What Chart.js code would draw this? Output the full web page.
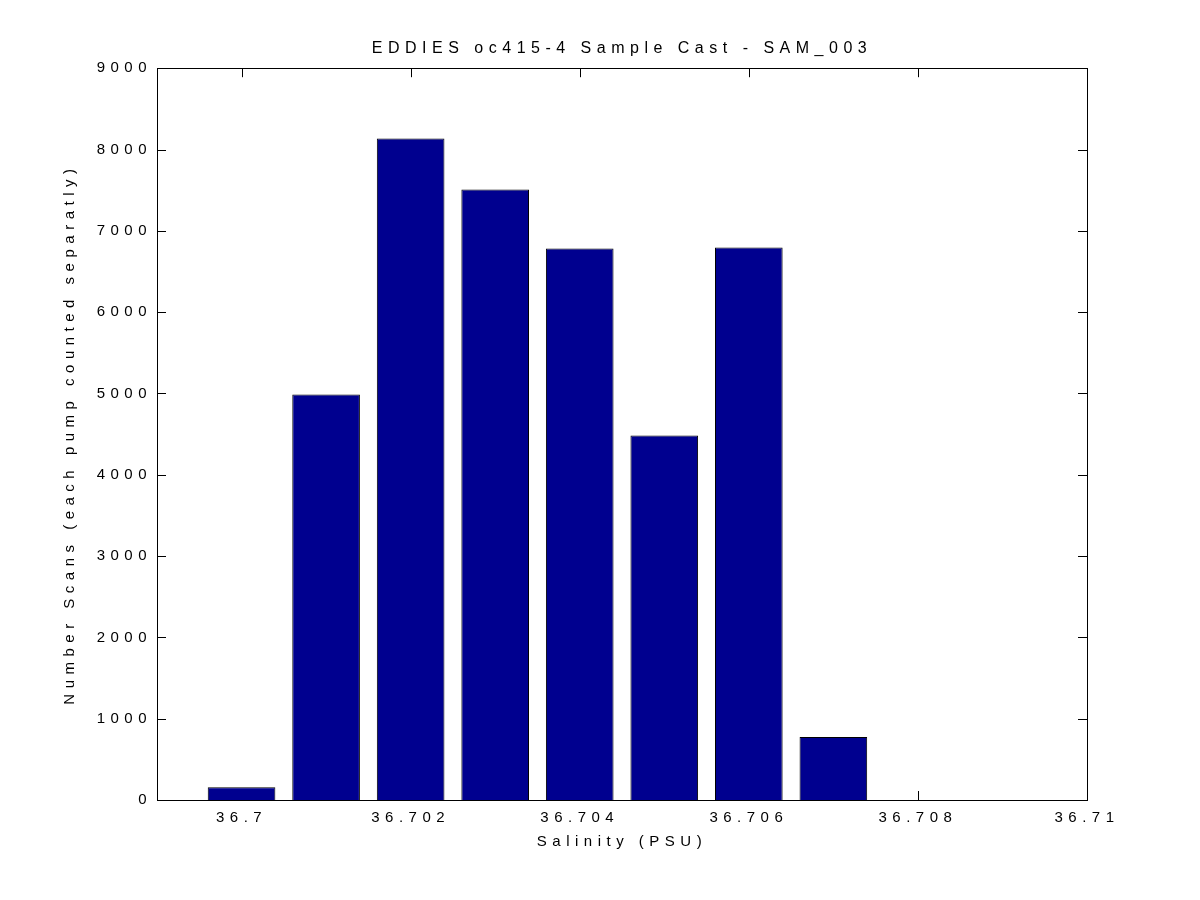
<!DOCTYPE html>
<html>
<head>
<meta charset="utf-8">
<script src="https://cdn.jsdelivr.net/npm/chart.js@4/dist/chart.umd.min.js"></script>
<style>
  body { margin: 0; background: #fff; }
</style>
</head>
<body>
<canvas id="myChart" width="1200" height="900"></canvas>
<script>
'use strict';

// DATA
// ====
var salinity = [36.700, 36.701, 36.702, 36.703, 36.704, 36.705, 36.706, 36.707];
var scans = [156, 4988, 8136, 7509, 6783, 4484, 6795, 775];
var xTicks = [36.7, 36.702, 36.704, 36.706, 36.708, 36.71];
var yTicks = [0, 1000, 2000, 3000, 4000, 5000, 6000, 7000, 8000, 9000];

var FONT = { family: '"Liberation Sans", Arial, sans-serif', size: 15 };
var TICK_LEN = 9;

// matlab style box with inward ticks on all four sides
var matlabAxes = {
    id: 'matlabAxes',
    beforeDraw: function (chart) {
        var ctx = chart.ctx;
        ctx.save();
        ctx.fillStyle = '#fff';
        ctx.fillRect(0, 0, chart.width, chart.height);
        ctx.restore();
        ctx.letterSpacing = '5.5px';
    },
    beforeDatasetsDraw: function (chart) {
        var ctx = chart.ctx, a = chart.chartArea;
        var xs = chart.scales.x, ys = chart.scales.y;
        ctx.save();
        ctx.strokeStyle = '#000';
        ctx.lineWidth = 1;
        ctx.beginPath();
        xTicks.forEach(function (v) {
            var px = Math.round(xs.getPixelForValue(v)) + 0.5;
            ctx.moveTo(px, a.bottom); ctx.lineTo(px, a.bottom - TICK_LEN);
            ctx.moveTo(px, a.top); ctx.lineTo(px, a.top + TICK_LEN);
        });
        yTicks.forEach(function (v) {
            var py = Math.round(ys.getPixelForValue(v)) + 0.5;
            ctx.moveTo(a.left, py); ctx.lineTo(a.left + TICK_LEN, py);
            ctx.moveTo(a.right, py); ctx.lineTo(a.right - TICK_LEN, py);
        });
        ctx.stroke();
        ctx.restore();
    },
    afterDatasetsDraw: function (chart) {
        var ctx = chart.ctx, a = chart.chartArea;
        ctx.save();
        ctx.strokeStyle = '#000';
        ctx.lineWidth = 1;
        ctx.strokeRect(Math.round(a.left) + 0.5, Math.round(a.top) + 0.5,
            Math.round(a.right - a.left), Math.round(a.bottom - a.top));
        ctx.restore();
    }
};

var ctx = document.getElementById('myChart');
var myChart = new Chart(ctx, {
    type: 'bar',
    data: {
        datasets: [{
            data: salinity.map(function (s, i) { return { x: s, y: scans[i] }; }),
            backgroundColor: '#00008f',
            borderColor: '#000',
            borderWidth: 1,
            barPercentage: 1,
            categoryPercentage: 0.8
        }]
    },
    plugins: [matlabAxes],
    options: {
        responsive: false,
        animation: false,
        layout: { padding: { left: 0, right: 113, top: 0, bottom: 0 } },
        plugins: {
            legend: { display: false },
            tooltip: { enabled: false },
            title: {
                display: true,
                fullSize: false,
                text: 'EDDIES oc415-4 Sample Cast - SAM_003',
                color: '#000',
                font: { family: FONT.family, size: 16, weight: 'normal', lineHeight: 1.2 },
                padding: { top: 39, bottom: 10 }
            }
        },
        scales: {
            x: {
                type: 'linear',
                offset: false,
                min: 36.699,
                max: 36.71,
                grid: { display: false },
                border: { display: false },
                afterBuildTicks: function (scale) {
                    scale.ticks = xTicks.map(function (v) { return { value: v }; });
                },
                afterFit: function (scale) { scale.height = 100; },
                ticks: {
                    color: '#000',
                    font: FONT,
                    padding: 1,
                    maxRotation: 0,
                    autoSkip: false,
                    callback: function (v) { return String(v); }
                },
                title: {
                    display: true,
                    text: 'Salinity (PSU)',
                    color: '#000',
                    font: FONT,
                    padding: { top: 0, bottom: 49 }
                }
            },
            y: {
                min: 0,
                max: 9000,
                grid: { display: false },
                border: { display: false },
                afterBuildTicks: function (scale) {
                    scale.ticks = yTicks.map(function (v) { return { value: v }; });
                },
                afterFit: function (scale) { scale.width = 157; },
                ticks: {
                    color: '#000',
                    font: FONT,
                    padding: -3,
                    autoSkip: false,
                    callback: function (v) { return String(v); }
                },
                title: {
                    display: true,
                    text: 'Number Scans (each pump counted separatly)',
                    color: '#000',
                    font: FONT,
                    padding: { top: 61, bottom: 0 }
                }
            }
        }
    }
});
</script>
</body>
</html>
